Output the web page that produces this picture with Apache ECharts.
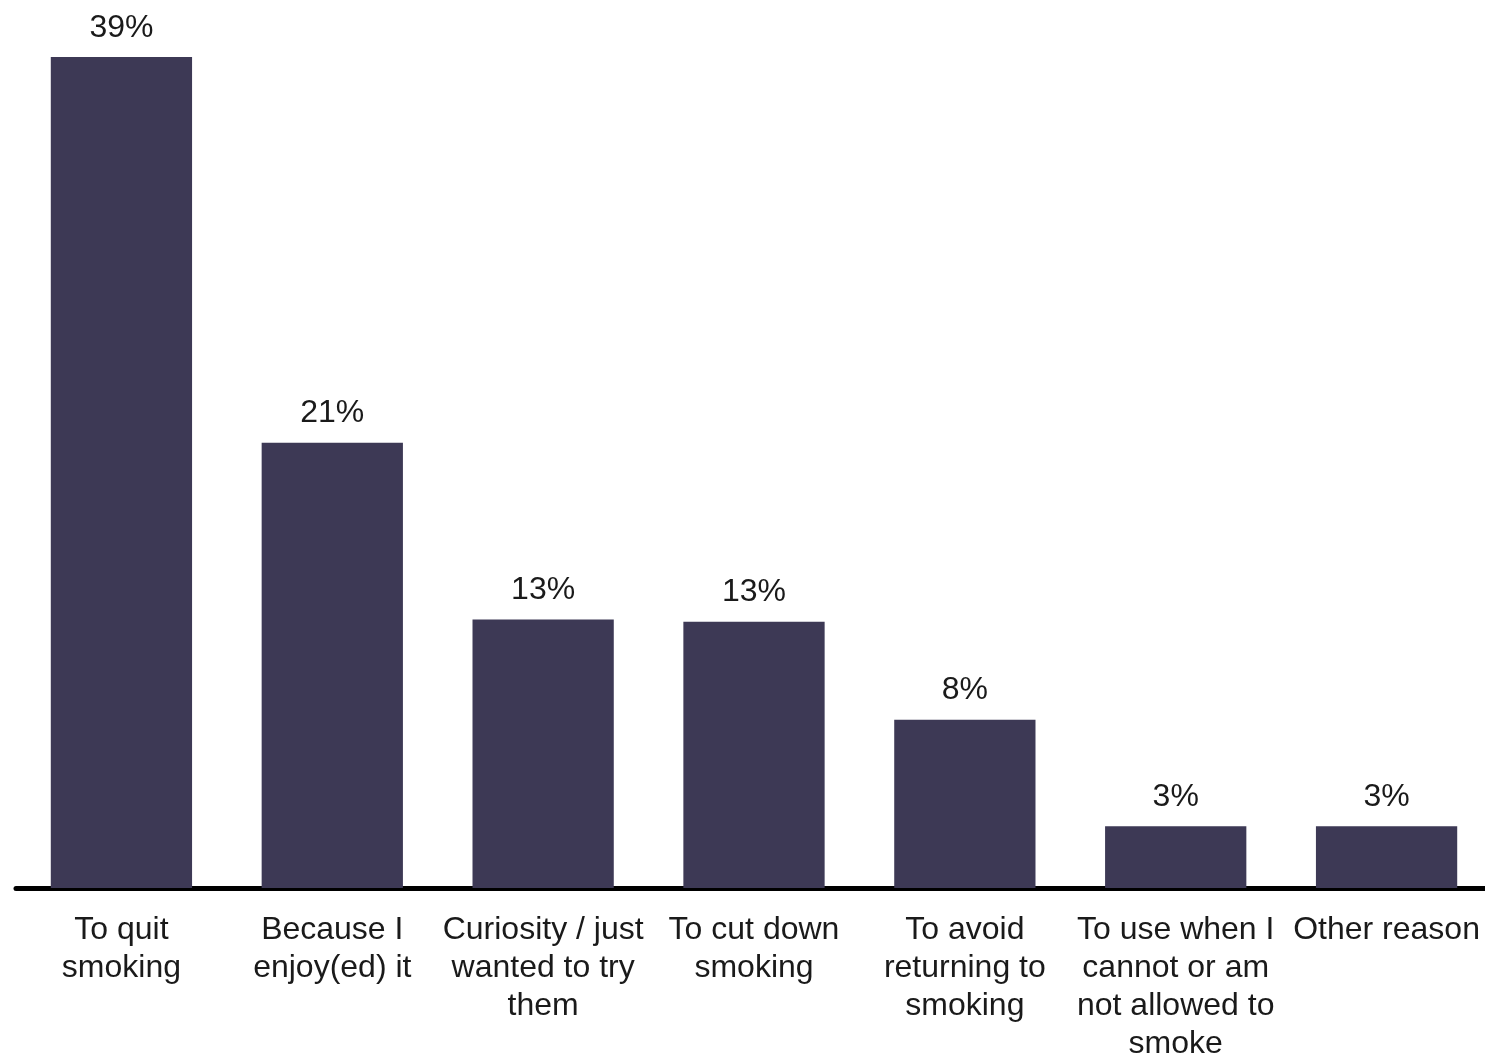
<!DOCTYPE html>
<html>
<head>
<meta charset="utf-8">
<title>Reasons for using e-cigarettes</title>
<script src="https://cdn.jsdelivr.net/npm/echarts@6/dist/echarts.min.js"></script>
<style>
  html, body { margin: 0; padding: 0; background: #ffffff; }
  #chart { width: 1485px; height: 1059px; }
</style>
</head>
<body>
<div id="chart"></div>
<script>
// Reasons given, in display order
const categories = [
  'To quit\nsmoking',
  'Because I\nenjoy(ed) it',
  'Curiosity / just\nwanted to try\nthem',
  'To cut down\nsmoking',
  'To avoid\nreturning to\nsmoking',
  'To use when I\ncannot or am\nnot allowed to\nsmoke',
  'Other reason'
];

// Share of respondents (%)
const shares = [39.0, 20.9, 12.6, 12.5, 7.9, 2.9, 2.9];

const FONT = '"Liberation Sans", Arial, sans-serif';

const chart = echarts.init(document.getElementById('chart'), null, { renderer: 'canvas' });

chart.setOption({
  backgroundColor: '#ffffff',
  animation: false,
  // the last category band runs slightly past the right edge
  grid: {
    left: 16, top: 57, width: 1476, height: 831,
    containLabel: false,
    outerBoundsMode: 'none'
  },
  xAxis: {
    type: 'category',
    data: categories,
    axisLine: { show: true, lineStyle: { color: '#000000', width: 5 } },
    axisTick: { show: false },
    axisLabel: {
      interval: 0,
      margin: 23,
      color: '#1a1a1a',
      fontFamily: FONT,
      fontSize: 32,
      lineHeight: 38,
      align: 'center'
    }
  },
  yAxis: {
    type: 'value',
    min: 0,
    max: 39,
    show: false,
    splitLine: { show: false }
  },
  series: [{
    type: 'bar',
    data: shares,
    barWidth: '67%',
    itemStyle: { color: '#3d3955' },
    label: {
      show: true,
      position: 'top',
      distance: 13,
      color: '#1a1a1a',
      fontFamily: FONT,
      fontSize: 32,
      formatter: p => Math.round(p.value) + '%'
    }
  }]
});
</script>
</body>
</html>
